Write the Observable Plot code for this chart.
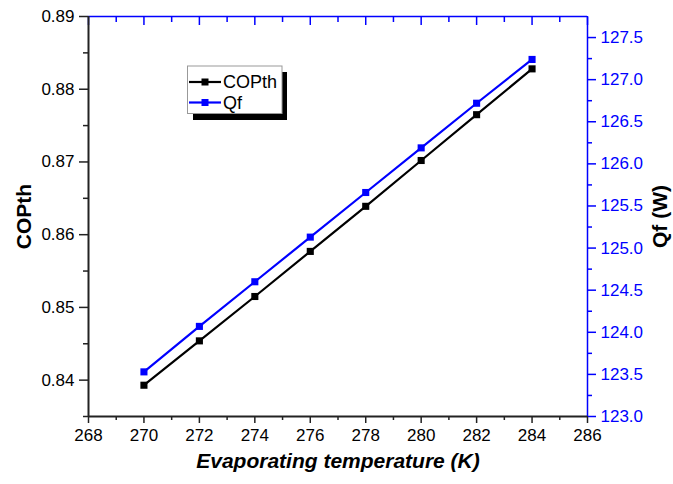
<!DOCTYPE html>
<html>
<head>
<meta charset="utf-8">
<script src="https://cdn.jsdelivr.net/npm/d3@7"></script>
<script src="https://cdn.jsdelivr.net/npm/@observablehq/plot@0.6"></script>
<style>
  html, body { margin: 0; padding: 0; background: #fff; }
  #chart { position: relative; width: 673px; height: 484px; }
</style>
</head>
<body>
<div id="chart"></div>
<script>
// ---- data ----
const temps = [270, 272, 274, 276, 278, 280, 282, 284];
const copth = [0.8393, 0.8454, 0.8515, 0.8577, 0.8639, 0.8702, 0.8765, 0.8828];
const qf = [123.53, 124.07, 124.60, 125.13, 125.66, 126.19, 126.72, 127.24];
const xTicks = [268, 270, 272, 274, 276, 278, 280, 282, 284, 286];
const xMinor = [269, 271, 273, 275, 277, 279, 281, 283, 285];
const copTicks = [0.84, 0.85, 0.86, 0.87, 0.88, 0.89];
const copMinor = [0.835, 0.845, 0.855, 0.865, 0.875, 0.885];
const qfTicks = [123.0, 123.5, 124.0, 124.5, 125.0, 125.5, 126.0, 126.5, 127.0, 127.5];
const qfMinor = [123.25, 123.75, 124.25, 124.75, 125.25, 125.75, 126.25, 126.75, 127.25];
const seriesNames = ["COPth", "Qf"];

// ---- scales ----
const xDomain = [268, 286];
const yDomain = [0.835, 0.89];
const qDomain = [123, 127.75];
const q2y = d3.scaleLinear().domain(qDomain).range(yDomain);

const copData = temps.map((t, i) => ({t, v: copth[i]}));
const qfData = temps.map((t, i) => ({t, v: q2y(qf[i])}));

const font = "'Liberation Sans', Arial, sans-serif";
const blue = "#0000ff";
const axisCol = "#222";

const chart = Plot.plot({
  width: 673,
  height: 484,
  marginLeft: 88,
  marginRight: 86,
  marginTop: 16,
  marginBottom: 68,
  style: {fontFamily: font, fontSize: "17px", background: "#fff", overflow: "visible"},
  x: {domain: xDomain},
  y: {domain: yDomain},
  marks: [
    // bottom axis
    Plot.axisX(xTicks, {anchor: "bottom", tickSize: 7, tickPadding: 5, fontSize: 17, color: "#000", stroke: axisCol, strokeWidth: 1.5, label: null}),
    Plot.axisX(xMinor, {anchor: "bottom", tickSize: 4, tickFormat: () => "", stroke: axisCol, strokeWidth: 1.5, label: null}),
    // top axis (inward ticks)
    Plot.axisX(xTicks, {anchor: "top", tickSize: -8, tickFormat: () => "", stroke: blue, strokeWidth: 1.5, label: null}),
    Plot.axisX(xMinor, {anchor: "top", tickSize: -5, tickFormat: () => "", stroke: blue, strokeWidth: 1.5, label: null}),
    // left axis
    Plot.axisY(copTicks, {anchor: "left", tickSize: 9, tickPadding: 5, fontSize: 17, color: "#000", stroke: axisCol, strokeWidth: 1.5, tickFormat: d3.format(".2f"), label: null}),
    Plot.axisY(copMinor, {anchor: "left", tickSize: 5, tickFormat: () => "", stroke: axisCol, strokeWidth: 1.5, label: null}),
    // right axis (Qf)
    Plot.axisY(qfTicks.map(q => q2y(q)), {anchor: "right", tickSize: 8, tickPadding: 5, fontSize: 17, color: blue, strokeWidth: 1.5, tickFormat: d => q2y.invert(d).toFixed(1), label: null}),
    Plot.axisY(qfMinor.map(q => q2y(q)), {anchor: "right", tickSize: 4, tickFormat: () => "", stroke: blue, strokeWidth: 1.5, label: null}),
    // frame lines
    Plot.ruleY([yDomain[1]], {stroke: blue, strokeWidth: 1.5}),
    Plot.ruleX([xDomain[1]], {stroke: blue, strokeWidth: 1.5}),
    Plot.ruleY([yDomain[0]], {stroke: axisCol, strokeWidth: 2}),
    Plot.ruleX([xDomain[0]], {stroke: axisCol, strokeWidth: 2}),
    // series
    Plot.line(copData, {x: "t", y: "v", stroke: "#000", strokeWidth: 2.2}),
    Plot.line(qfData, {x: "t", y: "v", stroke: blue, strokeWidth: 2.2}),
    Plot.dot(copData, {x: "t", y: "v", symbol: "square", r: 4, fill: "#000", stroke: "none"}),
    Plot.dot(qfData, {x: "t", y: "v", symbol: "square", r: 4, fill: blue, stroke: "none"}),
    // axis titles
    Plot.text(["COPth"], {frameAnchor: "left", dx: -64, rotate: -90, textAnchor: "middle", fontWeight: "bold", fontSize: 21, fill: "#000"}),
    Plot.text(["Qf (W)"], {frameAnchor: "right", dx: 73, rotate: -90, textAnchor: "middle", fontWeight: "bold", fontSize: 21, fill: "#000"}),
    Plot.text(["Evaporating temperature (K)"], {frameAnchor: "bottom", dy: 51, textAnchor: "middle", fontWeight: "bold", fontStyle: "italic", fontSize: 21, fill: "#000"})
  ]
});

document.getElementById("chart").appendChild(chart);

// ---- legend (drawn as SVG overlay) ----
const svg = d3.select(chart);
const lg = svg.append("g").attr("font-family", font).attr("text-anchor", "start");
lg.append("rect").attr("x", 193).attr("y", 72).attr("width", 94).attr("height", 48).attr("fill", "#000");
lg.append("rect").attr("x", 187.5).attr("y", 66).attr("width", 94.5).attr("height", 47.5).attr("fill", "#fff").attr("stroke", "#999").attr("stroke-width", 1);
const legendColors = ["#000", blue];
seriesNames.forEach((name, i) => {
  const yy = 82 + i * 20.5;
  lg.append("line").attr("x1", 189).attr("x2", 221).attr("y1", yy).attr("y2", yy).attr("stroke", legendColors[i]).attr("stroke-width", 2.2);
  lg.append("rect").attr("x", 201.5).attr("y", yy - 3.5).attr("width", 7).attr("height", 7).attr("fill", legendColors[i]);
  lg.append("text").attr("x", 223).attr("y", yy).attr("dy", "0.36em").attr("font-size", 18).attr("fill", "#000").text(name);
});
</script>
</body>
</html>
